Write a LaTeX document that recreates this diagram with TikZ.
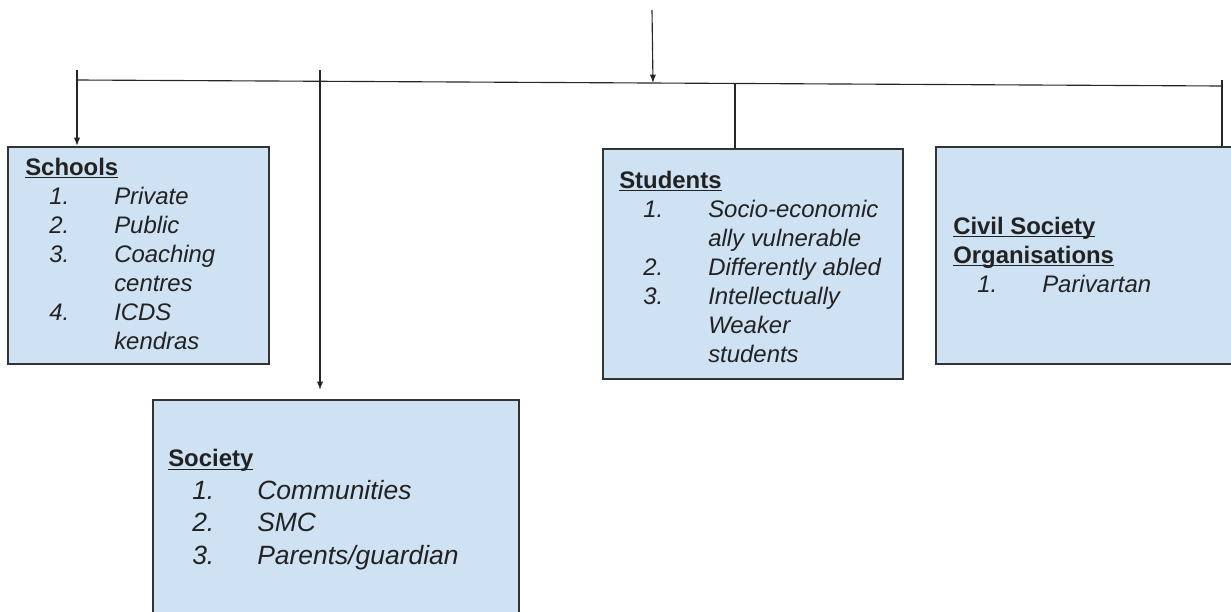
\documentclass[tikz,border=0pt]{standalone}
\usepackage{fontspec}
\setmainfont{Liberation Sans}
\definecolor{card_fill}{RGB}{207, 226, 243}
\definecolor{card_line}{RGB}{51, 51, 51}
\definecolor{card_text}{RGB}{34, 34, 34}
\usetikzlibrary{arrows.meta, positioning}
\newlength\pxu
\setlength\pxu{0.025cm}
\newlength\headw
\newcommand\head[1]{\settowidth\headw{\bfseries\upshape #1}%
  \rlap{\rule[-2.2pt]{\headw}{0.9pt}}\textbf{\upshape #1}}
\newcommand\li[2]{\hspace*{24\pxu}\makebox[65\pxu][l]{#1}#2}

\begin{document}
\begin{tikzpicture}[
      x=0.025cm, y=-0.025cm,
      card/.style={rectangle, draw=card_line, fill=card_fill,
                   line width=1.1pt, anchor=north west, inner sep=0pt},
      list/.style={anchor=base west, align=left, inner sep=0pt,
                   text=card_text, font=\fontsize{17}{20.6}\selectfont\itshape},
      biglist/.style={list, font=\fontsize{18.8}{23}\selectfont\itshape},
      link/.style={line width=0.8pt, black!85},
      arr/.style={link, -{Latex[length=6pt, width=4.5pt]}},
    ]
      \useasboundingbox (0,0) rectangle (1231,612);
      \clip (0,0) rectangle (1231,612);

      \node[card, minimum width=261\pxu, minimum height=217\pxu] (schools) at (7,146) {};
      \node[card, minimum width=366\pxu, minimum height=260\pxu] (society) at (152,399) {};
      \node[card, minimum width=300\pxu, minimum height=230\pxu] (students) at (602,148) {};
      \node[card, minimum width=320\pxu, minimum height=217\pxu] (cso) at (935,146) {};

      \node[list] (schoolsText) at (25,349)
            {\head{Schools}\\ \li{1.}{Private}\\ \li{2.}{Public}\\
             \li{3.}{Coaching}\\ \li{}{centres}\\ \li{4.}{ICDS}\\ \li{}{kendras}};
      \node[biglist] (societyText) at (168,564)
            {{\fontsize{17}{23}\selectfont\head{Society}}\\ \li{1.}{Communities}\\
             \li{2.}{SMC}\\ \li{3.}{Parents/guardian}};
      \node[list] (studentsText) at (619,362)
            {\head{Students}\\ \li{1.}{Socio-economic}\\ \li{}{ally vulnerable}\\
             \li{2.}{Differently abled}\\ \li{3.}{Intellectually}\\
             \li{}{Weaker}\\ \li{}{students}};
      \node[list] (csoText) at (953,292)
            {\head{Civil Society}\\ \head{Organisations}\\ \li{1.}{Parivartan}};

      \coordinate (feed)        at (652,10);
      \coordinate (hub)         at (653,83);
      \coordinate (busL)        at (77,80);
      \coordinate (busR)        at (1222,86);
      \coordinate (schoolsTick) at (77,70);
      \coordinate (societyTick) at (320,70);
      \coordinate (studentsTap) at (735,84);
      \coordinate (csoTap)      at (1222,80);

      \draw[link] (busL) -- (busR);
      \draw[arr] (feed) -- (hub);
      \draw[arr] (schoolsTick) -- (schoolsTick |- schools.north);
      \draw[arr, shorten >=6.4pt] (societyTick) -- (societyTick |- society.north);
      \draw[link] (studentsTap) -- (studentsTap |- students.north);
      \draw[link] (csoTap) -- (csoTap |- cso.north);
    \end{tikzpicture}
\end{document}
